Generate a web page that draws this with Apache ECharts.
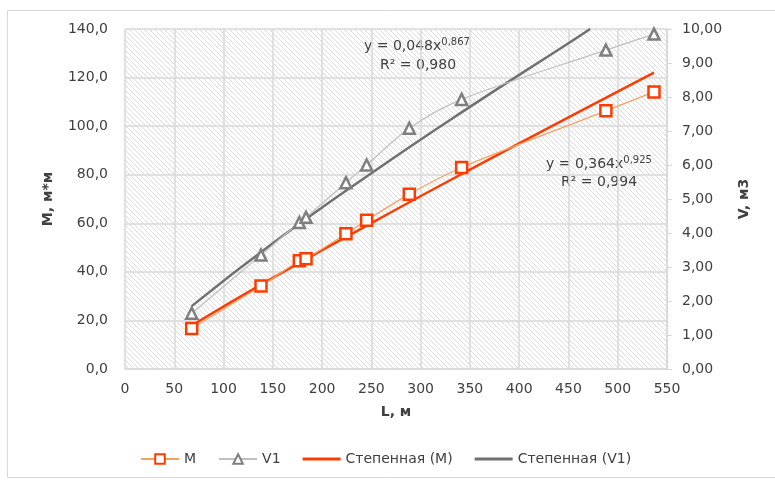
<!DOCTYPE html>
<html><head><meta charset="utf-8">
<script src="https://cdn.jsdelivr.net/npm/echarts@6/dist/echarts.min.js"></script>
<style>html,body{margin:0;padding:0;background:#fff}#c{width:775px;height:482px}</style>
</head><body><div id="c"></div>
<script>
// Data
const L = [67.7, 138, 176.9, 183.7, 224.2, 245.2, 288.5, 341.6, 488, 536.8];
const M = [16.7, 34.2, 44.6, 45.4, 55.7, 61.2, 72.0, 83.0, 106.3, 114.1];
const V1 = [1.64, 3.35, 4.31, 4.46, 5.48, 6.00, 7.08, 7.93, 9.38, 9.85];
// Trend lines (power fits as drawn in picture)
const trendM_L = [67.7, 150, 250, 350, 450, 536.8];
const trendM_Y = [17.9, 37.5, 60.1, 82.1, 103.6, 122.0];
const trendV_L = [67.7, 150, 250, 350, 450, 472];
const trendV_Y = [1.85, 3.70, 5.76, 7.71, 9.58, 10.0];
const xTicks = {min: 0, max: 550, interval: 50};
const yLeft = {min: 0, max: 140, interval: 20};
const yRight = {min: 0, max: 10, interval: 1};
const legendNames = ['M', 'V1', 'Степенная (M)', 'Степенная (V1)'];

const zip = (a, b) => a.map((v, i) => [v, b[i]]);

// hatch pattern
const P = 5;
const pc = document.createElement('canvas');
pc.width = P; pc.height = P;
const g = pc.getContext('2d');
g.fillStyle = '#ffffff'; g.fillRect(0, 0, P, P);
g.strokeStyle = '#dedede'; g.lineWidth = 1;
g.beginPath();
g.moveTo(0, 0); g.lineTo(P, P);
g.moveTo(-P, 0); g.lineTo(P, 2 * P);
g.moveTo(0, -P); g.lineTo(2 * P, P);
g.stroke();

const FONT = '"DejaVu Sans", sans-serif';
const TXT = '#404040';
const lineIcon = 'path://M0,0H40V3H0Z';
const chart = echarts.init(document.getElementById('c'));
chart.setOption({
  animation: false,
  textStyle: {fontFamily: FONT},
  grid: {left: 125, right: 108, top: 29, bottom: 113, show: true,
    backgroundColor: {image: pc, repeat: 'repeat'}, borderWidth: 0},
  graphic: [
    {type: 'rect', shape: {x: 7.5, y: 10.5, width: 780, height: 467}, style: {fill: 'none', stroke: '#d9d9d9', lineWidth: 1}, z: -1},
    {type: 'text', left: 364, top: 37, style: {
      rich: {a: {fontSize: 14, fill: TXT, fontFamily: FONT}, s: {fontSize: 10, fill: TXT, fontFamily: FONT, verticalAlign: 'top', padding: [0,0,8,0]}},
      text: '{a|y = 0,048x}{s|0,867}'}},
    {type: 'text', left: 380, top: 58, style: {text: 'R² = 0,980', fontSize: 14, fill: TXT, fontFamily: FONT}},
    {type: 'text', left: 546, top: 155, style: {
      rich: {a: {fontSize: 14, fill: TXT, fontFamily: FONT}, s: {fontSize: 10, fill: TXT, fontFamily: FONT, verticalAlign: 'top', padding: [0,0,8,0]}},
      text: '{a|y = 0,364x}{s|0,925}'}},
    {type: 'text', left: 561, top: 175, style: {text: 'R² = 0,994', fontSize: 14, fill: TXT, fontFamily: FONT}}
  ],
  legend: {
    data: [
      {name: 'M'}, {name: 'V1'},
      {name: 'Степенная (M)', icon: lineIcon},
      {name: 'Степенная (V1)', icon: lineIcon}
    ],
    bottom: 11, left: 135, itemWidth: 38, itemHeight: 12, itemGap: 22,
    textStyle: {fontSize: 14, color: TXT, fontFamily: FONT}
  },
  xAxis: {
    type: 'value', min: xTicks.min, max: xTicks.max, interval: xTicks.interval,
    name: 'L, м', nameLocation: 'middle', nameGap: 36,
    nameTextStyle: {fontWeight: 'bold', fontSize: 14, color: TXT},
    axisLine: {show: true, lineStyle: {color: '#d9d9d9', width: 1.5}},
    axisTick: {show: false},
    axisLabel: {fontSize: 14, color: TXT, margin: 13},
    splitLine: {show: true, lineStyle: {color: '#d9d9d9', width: 1.5}}
  },
  yAxis: [
    {type: 'value', min: yLeft.min, max: yLeft.max, interval: yLeft.interval,
      name: 'M, м*м', nameLocation: 'middle', nameGap: 70, nameRotate: 90,
      nameTextStyle: {fontWeight: 'bold', fontSize: 14, color: TXT},
      axisLine: {show: false}, axisTick: {show: false},
      axisLabel: {fontSize: 14, color: TXT, margin: 17, formatter: v => v.toFixed(1).replace('.', ',')},
      splitLine: {show: true, lineStyle: {color: '#d9d9d9', width: 1.5}}},
    {type: 'value', min: yRight.min, max: yRight.max, interval: yRight.interval,
      name: 'V, м3', nameLocation: 'middle', nameGap: 70, nameRotate: 90,
      nameTextStyle: {fontWeight: 'bold', fontSize: 14, color: TXT},
      axisLine: {show: true, lineStyle: {color: '#d9d9d9', width: 1.5}},
      axisTick: {show: true, length: 5, lineStyle: {color: '#d9d9d9'}},
      axisLabel: {fontSize: 14, color: TXT, margin: 15, formatter: v => v.toFixed(2).replace('.', ',')},
      splitLine: {show: false}}
  ],
  series: [
    {name: 'M', type: 'line', yAxisIndex: 0, data: zip(L, M), smooth: 0.3,
      symbol: 'rect', symbolSize: 11, z: 5,
      lineStyle: {color: '#F7A064', width: 1.2},
      itemStyle: {color: '#ffffff', borderColor: '#FF3C00', borderWidth: 2.5}},
    {name: 'V1', type: 'line', yAxisIndex: 1, data: zip(L, V1), smooth: 0.3,
      symbol: 'triangle', symbolSize: 11, z: 5,
      lineStyle: {color: '#BFBFBF', width: 1.2},
      itemStyle: {color: '#ffffff', borderColor: '#7F7F7F', borderWidth: 2.5}},
    {name: 'Степенная (M)', type: 'line', yAxisIndex: 0, data: zip(trendM_L, trendM_Y), smooth: true,
      symbol: 'none', z: 4, lineStyle: {color: '#FF3C00', width: 2.5}, itemStyle: {color: '#FF3C00'}},
    {name: 'Степенная (V1)', type: 'line', yAxisIndex: 1, data: zip(trendV_L, trendV_Y), smooth: true,
      symbol: 'none', z: 4, lineStyle: {color: '#707070', width: 2.5}, itemStyle: {color: '#707070'}}
  ]
});
</script></body></html>
